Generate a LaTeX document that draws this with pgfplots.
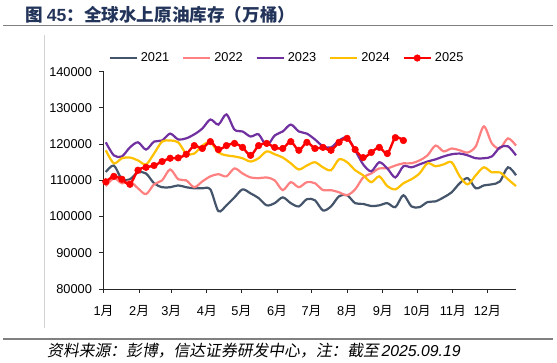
\documentclass[border=0pt]{standalone}
\usepackage{fontspec}
\setmainfont{Liberation Sans}
\newfontfamily\cjk{Noto Sans CJK SC}
\newfontfamily\cjksl{Noto Sans CJK SC}[FakeSlant=0.18]
\usepackage{pgfplots}
\usepackage{pgfplotstable}
\pgfplotsset{compat=1.18}
\definecolor{c2021}{RGB}{68,84,106}
\definecolor{c2022}{RGB}{255,128,128}
\definecolor{c2023}{RGB}{112,48,160}
\definecolor{c2024}{RGB}{255,192,0}
\definecolor{c2025}{RGB}{255,0,0}
\definecolor{titleblue}{RGB}{35,52,90}
\definecolor{rulegray}{RGB}{128,128,128}
\definecolor{framegray}{RGB}{210,210,210}

\pgfplotstableread{
day y2021 y2022 y2023 y2024
2 112300 108400 120500 118300
9 114100 110600 116900 114700
16 110300 109200 116600 116100
23 110300 109700 119100 116300
30 112200 107800 120500 115500
37 111900 106200 118500 114400
44 109200 108900 120700 117400
51 108100 110000 121000 120700
58 108100 113000 122900 121000
65 108600 110300 121300 120500
72 108100 110000 121600 117400
79 107800 108100 122700 117400
86 107800 109700 124300 119600
93 107500 111100 126800 120500
100 101500 111700 125400 117700
107 103100 111100 128200 116900
114 105300 113300 124000 116600
121 107500 111900 123500 116100
128 106400 110800 122100 115200
135 105100 110600 122700 116100
142 103100 110800 119600 118000
149 103700 110000 122400 117200
156 105300 107300 123500 116300
163 103700 109500 125400 114700
170 102800 108100 123500 113000
177 104800 109500 122900 114100
184 104500 109200 121300 115000
191 101700 107300 119400 113600
198 102800 107300 119100 112800
205 105600 106700 121000 115800
212 105900 105900 121800 115000
219 103700 107500 118300 112800
226 103500 110800 114400 111400
233 102900 111900 112500 109500
240 103100 113300 115000 111100
247 103700 113300 113300 108400
254 102600 114100 110800 107500
261 105900 114700 113900 109200
268 102800 114700 113600 110300
275 102600 115500 114400 111900
282 104000 116900 115200 114700
289 104200 119600 115800 113900
296 105300 118000 116600 114400
303 106700 118800 117200 115000
310 109200 118300 117400 111100
317 110600 117700 116900 108900
324 107800 119400 116100 111400
331 108600 124900 116100 113600
338 108900 120200 116600 112200
345 109700 118800 119100 112200
352 113600 121600 119400 110300
359 111400 119600 116900 108400
}\dataA

\pgfplotstableread{
day y2025
2 109600
9 111100
16 110300
23 108900
30 112800
37 113600
44 114100
51 115200
58 116100
65 116200
72 117200
79 119600
86 118800
93 120700
100 118500
107 119600
114 120200
121 119100
128 116900
135 119600
142 120200
149 119100
156 118800
163 120700
170 118300
177 120500
184 118800
191 119100
198 118300
205 120500
212 121600
219 118500
226 116300
233 117700
240 119100
247 117400
254 121800
261 121000
}\dataB

\begin{document}
\begin{tikzpicture}
\useasboundingbox (0,0) rectangle (557pt,363pt);
\draw[rulegray, line width=1.6pt] (3pt,337.5pt) -- (553pt,337.5pt);
\draw[rulegray, line width=1.6pt] (3pt,24pt) -- (553pt,24pt);
\draw[framegray, line width=0.8pt] (44.3pt,35pt) -- (44.3pt,328pt);
\node[anchor=west, inner sep=0pt, text=titleblue, font=\fontsize{17.6}{19}\selectfont\bfseries] at (25pt,348pt) {\cjk 图 {\rmfamily 45}：全球水上原油库存（万桶）};
\node[anchor=west, inner sep=0pt, font=\fontsize{15.8}{17}\selectfont] at (47pt,12.5pt) {{\cjksl 资料来源：彭博，信达证券研发中心，注：截至}\,{\itshape 2025.09.19}};
\begin{axis}[
  at={(103.5pt,74pt)}, anchor=south west,
  scale only axis, width=412.5pt, height=217.3pt,
  xmin=0, xmax=359, ymin=80000, ymax=140000,
  axis x line=bottom, axis y line=left,
  axis line style={-, draw=black!85, line width=0.9pt},
  tick align=outside, major tick length=4pt,
  tick style={draw=black!85, line width=0.9pt},
  xtick={0,31,59,90,120,151,181,212,243,273,304,334},
  xticklabels={1\cjk{月},2\cjk{月},3\cjk{月},4\cjk{月},5\cjk{月},6\cjk{月},7\cjk{月},8\cjk{月},9\cjk{月},10\cjk{月},11\cjk{月},12\cjk{月}},
  ytick={80000,90000,100000,110000,120000,130000,140000},
  scaled y ticks=false,
  /pgf/number format/.cd, fixed, precision=0, 1000 sep={}, assume math mode=true, /pgfplots/.cd,
  ticklabel style={font=\fontsize{12.8}{14}\selectfont, text=black},
  xticklabel style={yshift=-9pt},
  yticklabel style={xshift=-4pt},
  clip=false,
  legend columns=5,
  legend style={at={(0.012,1.063)}, anchor=west, draw=none, fill=none, inner sep=0pt,
    font=\fontsize{12.8}{14}\selectfont,
    /tikz/every even column/.append style={column sep=10.8pt},
    /tikz/every odd column/.append style={column sep=1pt}},
  legend image code/.code={\draw[mark repeat=2,mark phase=2,#1] plot coordinates {(0pt,0pt) (13.5pt,0pt) (27pt,0pt)};},
]
\addplot[c2021, line width=2.2pt, smooth, no markers] table[x=day, y=y2021] {\dataA};
\addlegendentry{2021}
\addplot[c2022, line width=2.2pt, smooth, no markers] table[x=day, y=y2022] {\dataA};
\addlegendentry{2022}
\addplot[c2023, line width=2.2pt, smooth, no markers] table[x=day, y=y2023] {\dataA};
\addlegendentry{2023}
\addplot[c2024, line width=2.2pt, smooth, no markers] table[x=day, y=y2024] {\dataA};
\addlegendentry{2024}
\addplot[c2025, line width=2.4pt, smooth, mark=*, mark size=3.3pt, mark options={fill=c2025, draw=c2025, line width=0.5pt}] table[x=day, y=y2025] {\dataB};
\addlegendentry{2025}
\end{axis}
\end{tikzpicture}
\end{document}
